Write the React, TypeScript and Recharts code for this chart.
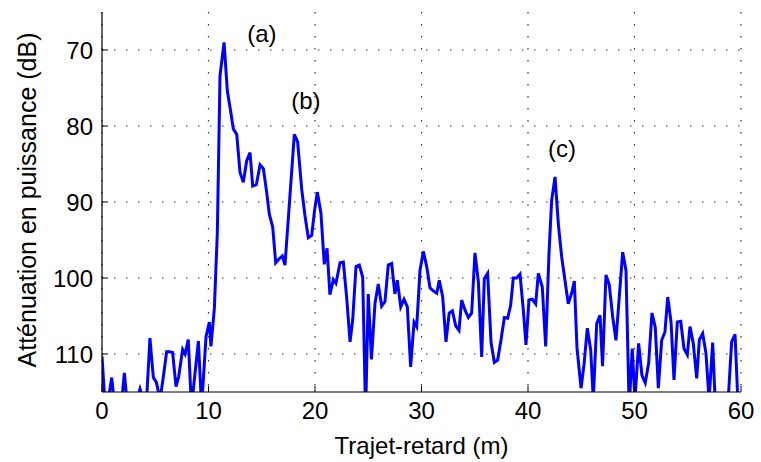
import React from 'react';
import { LineChart, Line, XAxis, YAxis, CartesianGrid, ReferenceDot, Label } from 'recharts';

const distances = [
  0.0, 0.3, 0.6, 0.91, 1.2, 1.5, 1.8, 2.1, 2.4, 2.7, 3.0, 3.3, 3.57, 3.88, 4.19, 4.5, 4.82, 5.1, 5.45, 5.76,
  6.07, 6.35, 6.63, 6.95, 7.2, 7.57, 7.8, 8.1, 8.4, 9.05, 9.35, 9.77, 10.08, 10.23, 10.55, 10.83, 11.08, 11.46, 11.77, 12.05,
  12.33, 12.65, 12.96, 13.27, 13.58, 13.9, 14.15, 14.5, 14.84, 15.15, 15.46, 15.71, 16.03, 16.31, 16.62, 16.93, 17.18, 17.56, 18.06, 18.37,
  18.75, 19.06, 19.37, 19.69, 19.95, 20.22, 20.56, 20.87, 21.13, 21.4, 21.72, 21.97, 22.35, 22.66, 22.97, 23.29, 23.54, 23.85, 24.16, 24.48,
  24.75, 25.0, 25.3, 25.63, 25.94, 26.26, 26.57, 26.88, 27.2, 27.5, 27.73, 28.05, 28.36, 28.67, 28.98, 29.3, 29.55, 29.86, 30.17, 30.49,
  30.8, 31.11, 31.43, 31.67, 31.99, 32.3, 32.6, 32.9, 33.21, 33.52, 33.77, 34.08, 34.4, 34.71, 35.02, 35.34, 35.65, 35.9, 36.21, 36.53,
  36.84, 37.15, 37.46, 37.78, 38.09, 38.37, 38.62, 38.94, 39.25, 39.56, 39.81, 40.09, 40.4, 40.72, 40.97, 41.34, 41.66, 41.97, 42.22, 42.54,
  42.85, 43.16, 43.47, 43.78, 44.1, 44.35, 44.6, 44.98, 45.26, 45.57, 45.89, 46.13, 46.45, 46.76, 47.0, 47.32, 47.63, 47.95, 48.26, 48.57,
  48.89, 49.2, 49.5, 49.79, 50.04, 50.39, 50.7, 51.01, 51.33, 51.64, 51.95, 52.24, 52.55, 52.86, 53.12, 53.43, 53.71, 54.02, 54.34, 54.65,
  54.96, 55.21, 55.52, 55.84, 56.09, 56.4, 56.71, 57.0, 57.34, 57.6, 57.9, 58.2, 58.5, 58.8, 59.12, 59.44, 59.7, 60.0,
];

const attenuation = [
  110.3, 117, 116, 113.1, 117, 118, 117, 112.5, 117, 118, 117, 116, 114.6, 116, 116, 107.9, 113.1, 113.7, 116, 113,
  109.7, 109.7, 109.8, 114.3, 113, 109.4, 110, 108.1, 117, 108.3, 117, 107.7, 105.8, 109.0, 104, 94, 73.4, 69.0, 75.4, 77.8,
  80.4, 81.1, 86.1, 87.4, 84.6, 83.5, 87.9, 87.7, 85.1, 85.6, 88.7, 91.6, 93.3, 98.0, 97.5, 97.1, 98.3, 90.9, 81.1, 82.1,
  88.3, 91.8, 94.7, 94.4, 91.2, 88.7, 91.5, 98.2, 96.1, 102.2, 100.2, 100.7, 98.0, 97.9, 102.5, 108.4, 105.5, 98.5, 98.3, 99.9,
  118, 102.1, 110.7, 103.4, 100.8, 103.7, 103.1, 98.3, 98.1, 102.1, 100.3, 103.8, 102.8, 103.8, 111.7, 105.8, 106.4, 99.0, 96.5, 98.5,
  101.3, 101.7, 102.0, 100.3, 102.5, 108.4, 104.6, 104.3, 106.3, 106.9, 102.9, 104.2, 105.2, 104.6, 96.7, 100.5, 110.4, 100.1, 99.4, 108.5,
  111.1, 110.8, 108.2, 105.2, 105.3, 103.6, 100.0, 100.0, 99.5, 104.2, 108.8, 102.9, 102.8, 103.4, 99.4, 101.2, 109.0, 96.8, 89.8, 86.7,
  92.9, 97.2, 100.3, 103.4, 102.0, 100.4, 109.2, 114.5, 111.4, 106.6, 109.5, 116, 106, 104.9, 111.6, 99.6, 100.9, 105.1, 108.2, 102.5,
  96.6, 99.0, 117, 109.3, 116, 108.6, 112.8, 113.8, 111.2, 104.6, 106.5, 114.5, 108.2, 107.1, 102.5, 105.8, 113.4, 105.8, 105.7, 109.3,
  110.1, 106.4, 108.6, 113.2, 108.1, 107.3, 109.9, 116, 108.5, 117, 118, 117, 118, 116, 108.4, 107.4, 116, 118,
];

const xTicks = [0, 10, 20, 30, 40, 50, 60];
const yTicks = [70, 80, 90, 100, 110];

const peakLabels = ['(a)', '(b)', '(c)'];
const peakX = [15.02, 19.15, 43.19];
const peakY = [67.77, 76.69, 82.98];

const data = distances.map((d, i) => ({ d, a: attenuation[i] }));

const FONT = '"Liberation Sans", Arial, Helvetica, sans-serif';
const FS = 24;

const YTitle = (props: any) => {
  const vb = props.viewBox || {};
  const x = vb.x + 27;
  const y = vb.y + vb.height / 2 - 2;
  return (
    <text x={x} y={y} transform={`rotate(-90, ${x}, ${y})`} textAnchor="middle" dominantBaseline="central"
      fontFamily={FONT} fontSize={25} fill="#000">
      Atténuation en puissance (dB)
    </text>
  );
};

const XTitle = (props: any) => {
  const vb = props.viewBox || {};
  const x = vb.x + vb.width / 2;
  const y = vb.y + 53;
  return (
    <text x={x} y={y} textAnchor="middle" dominantBaseline="central" fontFamily={FONT} fontSize={FS} fill="#000">
      Trajet-retard (m)
    </text>
  );
};

const makePeakShape = (txt: string) => (props: any) => (
  <text x={props.cx} y={props.cy} textAnchor="middle" dominantBaseline="central" fontFamily={FONT} fontSize={FS} fill="#000">
    {txt}
  </text>
);

const tickStyle = { fontFamily: FONT, fontSize: FS, fill: '#000' };

export default function App() {
  return (
    <div style={{ position: 'absolute', left: 0, top: 0, width: 761, height: 462, background: '#fff' }}>
      <LineChart width={761} height={462} data={data} margin={{ top: 12, right: 20, bottom: 0, left: 0 }}>
        <CartesianGrid stroke="#333" strokeDasharray="1.5 10.5" strokeWidth={1.2} horizontalValues={yTicks} verticalValues={xTicks} />
        <XAxis
          dataKey="d"
          type="number"
          domain={[0, 60]}
          ticks={xTicks}
          height={70}
          tickSize={-6}
          tickMargin={16}
          tick={tickStyle}
          stroke="#000"
          axisLine={{ stroke: '#000', strokeWidth: 1.2 }}
          tickLine={{ stroke: '#000' }}
          allowDataOverflow
          label={<Label content={XTitle} />}
        />
        <XAxis
          xAxisId="top"
          orientation="top"
          type="number"
          domain={[0, 60]}
          ticks={xTicks}
          height={0}
          tickSize={-6}
          tickFormatter={() => ''}
          axisLine={{ stroke: '#000', strokeWidth: 1.2 }}
          tickLine={{ stroke: '#000' }}
          allowDataOverflow
        />
        <YAxis
          type="number"
          domain={[65, 115]}
          reversed
          ticks={yTicks}
          width={102}
          tickSize={-6}
          tickMargin={15}
          tick={tickStyle}
          axisLine={{ stroke: '#000', strokeWidth: 1.2 }}
          tickLine={{ stroke: '#000' }}
          allowDataOverflow
          label={<Label content={YTitle} />}
        />
        <YAxis
          yAxisId="right"
          orientation="right"
          type="number"
          domain={[65, 115]}
          reversed
          ticks={yTicks}
          width={0}
          tickSize={-6}
          tickFormatter={() => ''}
          axisLine={{ stroke: '#000', strokeWidth: 1.2 }}
          tickLine={{ stroke: '#000' }}
          allowDataOverflow
        />
        <Line
          type="linear"
          dataKey="a"
          stroke="#0000ff"
          strokeWidth={3}
          dot={false}
          activeDot={false}
          isAnimationActive={false}
        />
        {peakLabels.map((t, i) => (
          <ReferenceDot key={t} x={peakX[i]} y={peakY[i]} r={0} ifOverflow="visible" shape={makePeakShape(t)} />
        ))}
      </LineChart>
    </div>
  );
}
